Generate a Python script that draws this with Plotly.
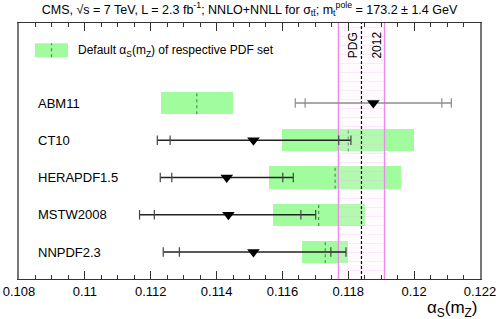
import plotly.graph_objects as go

# ---------------- data ----------------
pdf_sets = ["ABM11", "CT10", "HERAPDF1.5", "MSTW2008", "NNPDF2.3"]
row_pos = [4, 3, 2, 1, 0]

# default alpha_s(mZ) of each PDF set (band low, central, band high)
default_lo = [0.1123, 0.1160, 0.1156, 0.1157, 0.1166]
default_c = [0.1134, 0.1180, 0.1176, 0.1171, 0.1173]
default_hi = [0.1145, 0.1200, 0.1196, 0.1185, 0.1180]

# extracted alpha_s with inner (exp) and outer (total) uncertainties
fit_c = [0.11876, 0.11512, 0.11431, 0.11436, 0.11512]
fit_in_lo = [0.11669, 0.11259, 0.11264, 0.11211, 0.11287]
fit_in_hi = [0.12084, 0.11771, 0.11601, 0.11656, 0.11747]
fit_out_lo = [0.11639, 0.11220, 0.11229, 0.11166, 0.11238]
fit_out_hi = [0.12113, 0.11808, 0.11633, 0.11701, 0.11793]
bar_colors = ["#8c8c8c", "#222222", "#222222", "#222222", "#222222"]

# PDG 2012 world average
pdg_c = 0.1184
pdg_err = 0.0007

x_range = [0.108, 0.122]
y_range = [-0.725, 6.148]
box_half = 0.3
tick_half = 0.13

GREEN = "#a0fc9c"
PINK = "#ee88ee"

fig = go.Figure()

# green default boxes
fig.add_trace(go.Bar(
    y=row_pos, x=[h - l for l, h in zip(default_lo, default_hi)], base=default_lo,
    orientation="h", width=2 * box_half, marker=dict(color=GREEN, line=dict(width=0)),
    showlegend=False, hoverinfo="skip"))

# dotted central lines
dx, dy = [], []
for c, y in zip(default_c, row_pos):
    dx += [c, c, None]
    dy += [y - box_half, y + box_half, None]
fig.add_trace(go.Scatter(x=dx, y=dy, mode="lines",
                         line=dict(color="#5a8a5a", width=1.2, dash="dot"),
                         showlegend=False, hoverinfo="skip"))

# PDG band (hatched)
lo, hi = pdg_c - pdg_err, pdg_c + pdg_err
fig.add_trace(go.Scatter(
    x=[lo, hi, hi, lo, lo], y=[y_range[0], y_range[0], y_range[1], y_range[1], y_range[0]],
    mode="lines", fill="toself", line=dict(width=0),
    fillcolor="rgba(255,235,255,0.2)",
    fillpattern=dict(shape="-", fgcolor="rgba(230,175,230,0.7)", bgcolor="rgba(255,235,255,0.2)",
                     size=9, solidity=0.07),
    showlegend=False, hoverinfo="skip"))
for xv in (lo, hi):
    fig.add_trace(go.Scatter(x=[xv, xv], y=y_range, mode="lines",
                             line=dict(color=PINK, width=1.3), showlegend=False, hoverinfo="skip"))
fig.add_trace(go.Scatter(x=[pdg_c, pdg_c], y=y_range, mode="lines",
                         line=dict(color="black", width=1.2, dash="3px,2px"),
                         showlegend=False, hoverinfo="skip"))

# error bars
for i, y in enumerate(row_pos):
    col = bar_colors[i]
    fig.add_trace(go.Scatter(x=[fit_out_lo[i], fit_out_hi[i]], y=[y, y], mode="lines",
                             line=dict(color=col, width=1.3), showlegend=False, hoverinfo="skip"))
    tx, ty = [], []
    for xv in (fit_out_lo[i], fit_in_lo[i], fit_in_hi[i], fit_out_hi[i]):
        tx += [xv, xv, None]
        ty += [y - tick_half, y + tick_half, None]
    fig.add_trace(go.Scatter(x=tx, y=ty, mode="lines",
                             line=dict(color=col if i == 0 else "#444444", width=1.2),
                             showlegend=False, hoverinfo="skip"))

fig.add_trace(go.Scatter(x=fit_c, y=row_pos, mode="markers",
                         marker=dict(symbol="triangle-down", size=11, color="black",
                                     line=dict(width=0)),
                         showlegend=False, hoverinfo="skip"))

# legend box
fig.add_shape(type="rect", xref="paper", yref="paper",
              x0=(35 - 19) / 461, x1=(68 - 19) / 461, y0=(279 - 57.3) / 256, y1=(279 - 43.3) / 256,
              fillcolor=GREEN, line=dict(width=0), layer="above")
fig.add_shape(type="line", xref="paper", yref="paper",
              x0=(51.5 - 19) / 461, x1=(51.5 - 19) / 461, y0=(279 - 57.3) / 256, y1=(279 - 43.3) / 256,
              line=dict(color="#5a8a5a", width=1.2, dash="dot"), layer="above")

FONT = "Liberation Sans, Arial, sans-serif"
annotations = [
    dict(text="Default α<sub>S</sub>(m<sub>Z</sub>) of respective PDF set", xref="paper", yref="paper",
         x=(76 - 19) / 461, y=(279 - 50.5) / 256, xanchor="left", yanchor="middle",
         showarrow=False, font=dict(size=12, color="black", family=FONT)),
    dict(text="PDG", xref="x", yref="paper", x=0.11815, y=(279 - 45) / 256, textangle=-90,
         showarrow=False, xanchor="center", yanchor="middle", font=dict(size=12, color="black", family=FONT)),
    dict(text="2012", xref="x", yref="paper", x=0.11886, y=(279 - 45) / 256, textangle=-90,
         showarrow=False, xanchor="center", yanchor="middle", font=dict(size=12, color="black", family=FONT)),
    dict(text="α<sub>S</sub>(m<sub>Z</sub>)", xref="paper", yref="paper", x=1.0, y=-0.068,
         xanchor="right", yanchor="top", showarrow=False,
         font=dict(size=17, color="black", family=FONT)),
]
for name, y in zip(pdf_sets, row_pos):
    annotations.append(dict(text=name, xref="paper", yref="y", x=0, xshift=17, y=y,
                            xanchor="left", yanchor="middle", showarrow=False,
                            font=dict(size=13, color="black", family=FONT)))

fig.update_layout(
    width=499, height=319,
    margin=dict(l=19, r=19, t=23, b=40, autoexpand=False),
    paper_bgcolor="white", plot_bgcolor="white",
    title=dict(text="CMS, √s = 7 TeV, L = 2.3 fb<sup>-1</sup>; NNLO+NNLL for σ<sub>tt̄</sub>; "
                    "m<sub>t</sub><sup>pole</sup> = 173.2 ± 1.4 GeV",
               x=0.5, xanchor="center", y=0.985, yanchor="top",
               font=dict(size=12.5, color="black", family=FONT)),
    xaxis=dict(range=x_range, dtick=0.002, tick0=0.108, ticks="inside", ticklen=8,
               tickcolor="#333", tickwidth=1, showgrid=False, zeroline=False, automargin=False,
               showline=True, linecolor="#333", linewidth=1, mirror="ticks",
               tickformat="~g", tickfont=dict(size=13, color="black", family=FONT),
               minor=dict(dtick=0.0005, ticks="inside", ticklen=4, tickcolor="#333", showgrid=False)),
    yaxis=dict(range=y_range, showticklabels=False, ticks="", showgrid=False, zeroline=False,
               automargin=False,
               showline=True, linecolor="#777", linewidth=2, mirror=True),
    bargap=0,
    annotations=annotations,
    showlegend=False,
)

fig.write_html("out.html", config={"displayModeBar": False},
               post_script="document.body.style.margin='0';document.body.style.padding='0';")
